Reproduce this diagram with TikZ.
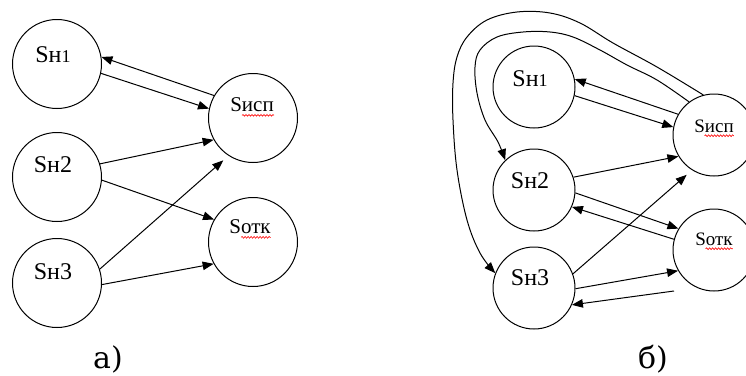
\documentclass[tikz,border=0pt]{standalone}
\usepackage{fontspec}
\setmainfont{Liberation Serif}
\newfontfamily\lblfont{DejaVu Serif}
\usetikzlibrary{arrows.meta,calc,decorations.pathmorphing}
\begin{document}
\begin{tikzpicture}[x=1pt,y=-1pt,
  circa/.style={draw, circle, line width=1pt, inner sep=0pt, minimum size=89pt},
  circb/.style={circa, minimum size=82pt},
  txtn/.style={inner sep=0pt, font=\fontsize{24}{24}\selectfont},
  txts/.style={inner sep=0pt, font=\fontsize{21}{21}\selectfont},
  txtb/.style={inner sep=0pt, font=\fontsize{19}{19}\selectfont},
  arr/.style={line width=1pt, -{Triangle[length=11pt,width=8.5pt]}},
  wav/.style={red, line width=0.6pt, decorate, decoration={snake, amplitude=0.9pt, segment length=3pt}},
  captxt/.style={inner sep=0pt, font=\lblfont\fontsize{30}{30}\selectfont}
]
\useasboundingbox (0,0) rectangle (746,375);
\newcommand{\one}{{\fontsize{18}{18}\selectfont 1}}
% ---------- panel a ----------
\node[circa] (a1) at (57,64) {};
\node[circa] (a2) at (57,177) {};
\node[circa] (a3) at (57,283) {};
\node[circa] (ai) at (253,118) {};
\node[circa] (ao) at (253,242) {};
\node[txtn] (a1t) at (53,55) {Sн\one};
\node[txtn] (a2t) at (53,165) {Sн2};
\node[txtn] (a3t) at (53,272) {Sн3};
\node[txts] (ait) at (252,105) {Sисп};
\node[txts] (aot) at (250,227) {Sотк};
\draw[wav] ($(ait.base west)+(12,3.5)$) -- ($(ait.base east)+(0,3.5)$);
\draw[wav] ($(aot.base west)+(12,3.5)$) -- ($(aot.base east)+(0,3.5)$);
\draw[arr] (ai.150) -- (a1.9);
\draw[arr] (a1.-12) -- (ai.168);
\draw[arr] (a2.17) -- (ai.209);
\draw[arr] (a2.-4) -- (ao.150);
\draw[arr, shorten >=7pt] (a3.18) -- (ai.237);
\draw[arr] (a3.-2) -- (ao.209);
\node[captxt] (la) at (108,359) {а)};
% ---------- panel b ----------
\node[circb] (b1) at (534,87) {};
\node[circb] (b2) at (534,190) {};
\node[circb] (b3) at (534,288) {};
\node[circb] (bi) at (714,135) {};
\node[circb] (bo) at (714,250) {};
\node[txtn] (b1t) at (530,79) {Sн\one};
\node[txtn] (b2t) at (530,181) {Sн2};
\node[txtn] (b3t) at (530,278) {Sн3};
\node[txtb] (bit) at (714,126) {Sисп};
\node[txtb] (bot) at (714,239) {Sотк};
\draw[wav] ($(bit.base west)+(10.5,3.5)$) -- ($(bit.base east)+(0,3.5)$);
\draw[wav] ($(bot.base west)+(10.5,3.5)$) -- ($(bot.base east)+(0,3.5)$);
\draw[arr] (bi.150) -- (b1.11);
\draw[arr] (b1.-12) -- (bi.169);
\draw[arr] (b2.18) -- (bi.211);
\draw[arr] (b2.-4) -- (bo.149);
\draw[arr] (bo.165) -- (b2.-24);
\draw[arr, shorten >=7pt] (b3.20) -- (bi.238);
\draw[arr] (b3.-1) -- (bo.210);
\coordinate (bo8) at (674,291);
\draw[arr] (bo8) -- (b3.-24);
\draw[arr] plot[smooth, tension=0.6] coordinates {(bi.127) (657,80) (627,65) (600,50) (573,37) (550,32) (523,32) (497,37) (480,50) (475,67) (477,93) (485,120) (498,142) (b2.134)};
\draw[arr] plot[smooth, tension=0.6] coordinates {(bi.105) (657,67) (613,43) (580,23) (550,13) (517,12) (487,20) (467,37) (457,57) (453,83) (453,120) (457,170) (467,220) (480,253) (b3.159)};
\node[captxt] (lb) at (653,359) {б)};
\end{tikzpicture}
\end{document}
